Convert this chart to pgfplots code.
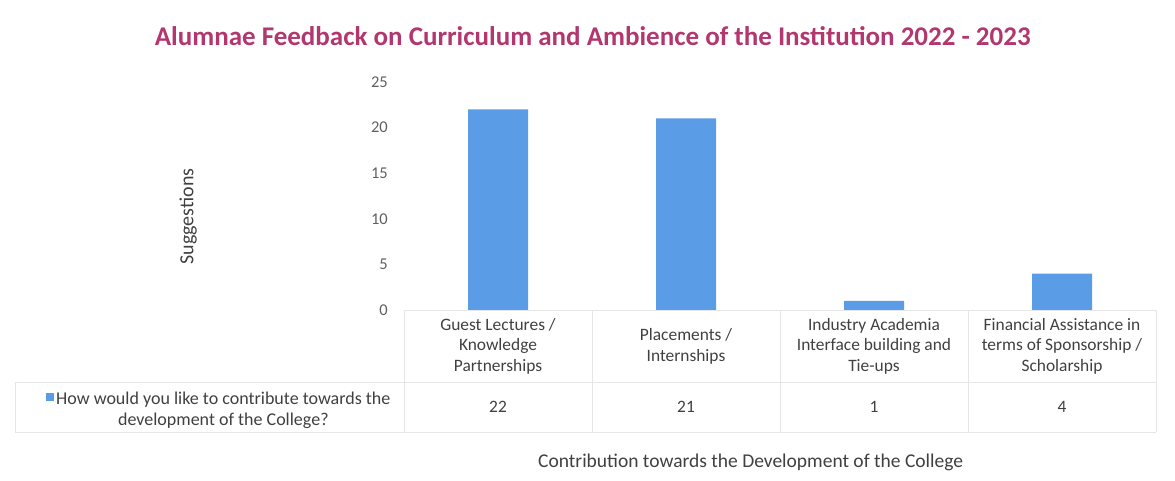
\documentclass[border=0pt]{standalone}
\usepackage{fontspec}
\setmainfont{Carlito}
\usepackage{pgfplots}
\pgfplotsset{compat=1.18}
\definecolor{barblue}{HTML}{5B9CE6}
\definecolor{titlecol}{HTML}{B3376F}
\definecolor{txt}{HTML}{404040}
\definecolor{ticktxt}{HTML}{606060}
\definecolor{grid}{HTML}{E6E6E6}
\newcommand\cell[2]{\vbox{\offinterlineskip\hbox{\parbox[c][72pt][c]{184pt}{\centering\fontsize{17.4}{20.5}\selectfont #1}}\hbox{\parbox[c][50pt][c]{184pt}{\centering\fontsize{17.4}{20}\selectfont #2}}}}
\begin{document}
\begin{tikzpicture}
\useasboundingbox (0,0) rectangle (1175pt,480pt);
\begin{axis}[
  at={(404pt,170pt)}, anchor=south west,
  scale only axis, width=752pt, height=228pt,
  xmin=-0.5, xmax=3.5, ymin=0, ymax=25,
  ytick={0,5,...,25},
  xtick={0,1,2,3},
  xticklabels={
    {\cell{Guest Lectures /\\Knowledge\\Partnerships}{22}},
    {\cell{Placements /\\Internships}{21}},
    {\cell{Industry Academia\\Interface building and\\Tie-ups}{1}},
    {\cell{Financial Assistance in\\terms of Sponsorship /\\Scholarship}{4}}},
  xticklabel style={anchor=north, inner sep=0pt, yshift=0pt, text=txt},
  yticklabel style={anchor=east, inner sep=0pt, xshift=-16pt, font=\fontsize{16.5}{18}\selectfont, text=ticktxt},
  /pgf/number format/assume math mode=true,
  axis line style={draw=none},
  major tick length=0pt,
  tick style={draw=none},
  ylabel={Suggestions},
  ylabel style={at={(axis description cs:-0.287,0.41)}, anchor=center, font=\fontsize{20}{22}\selectfont, text=txt},
  xlabel={Contribution towards the Development of the College},
  xlabel style={at={(axis description cs:0.461,-0.667)}, anchor=center, font=\fontsize{19.5}{22}\selectfont, text=txt},
  title={Alumnae Feedback on Curriculum and Ambience of the Institution 2022 - 2023},
  title style={at={(axis description cs:0.251,1.175)}, anchor=center, font=\fontsize{27}{30}\selectfont\bfseries, text=titlecol},
  legend style={at={(axis description cs:-0.48,-0.386)}, anchor=west, draw=none, fill=none, font=\fontsize{18}{21}\selectfont, text=txt},
  legend image code/.code={\fill[barblue] (0pt,-3pt) rectangle (8pt,5pt);},
  clip=false,
]
\addplot[ybar, bar width=60pt, fill=barblue, draw=none] coordinates {(0,22) (1,21) (2,1) (3,4)};
\addlegendentry{\begin{tabular}[t]{@{}c@{}}How would you like to contribute towards the\\development of the College?\end{tabular}}
\end{axis}
\begin{scope}[draw=grid, line width=0.8pt]
\draw (404pt,170pt) -- (1156pt,170pt);
\draw (15pt,98pt) -- (1156pt,98pt);
\draw (15pt,48pt) -- (1156pt,48pt);
\draw (15pt,98pt) -- (15pt,48pt);
\foreach \x in {404,592,780,968,1156} \draw (\x pt,170pt) -- (\x pt,48pt);
\end{scope}
\end{tikzpicture}
\end{document}
